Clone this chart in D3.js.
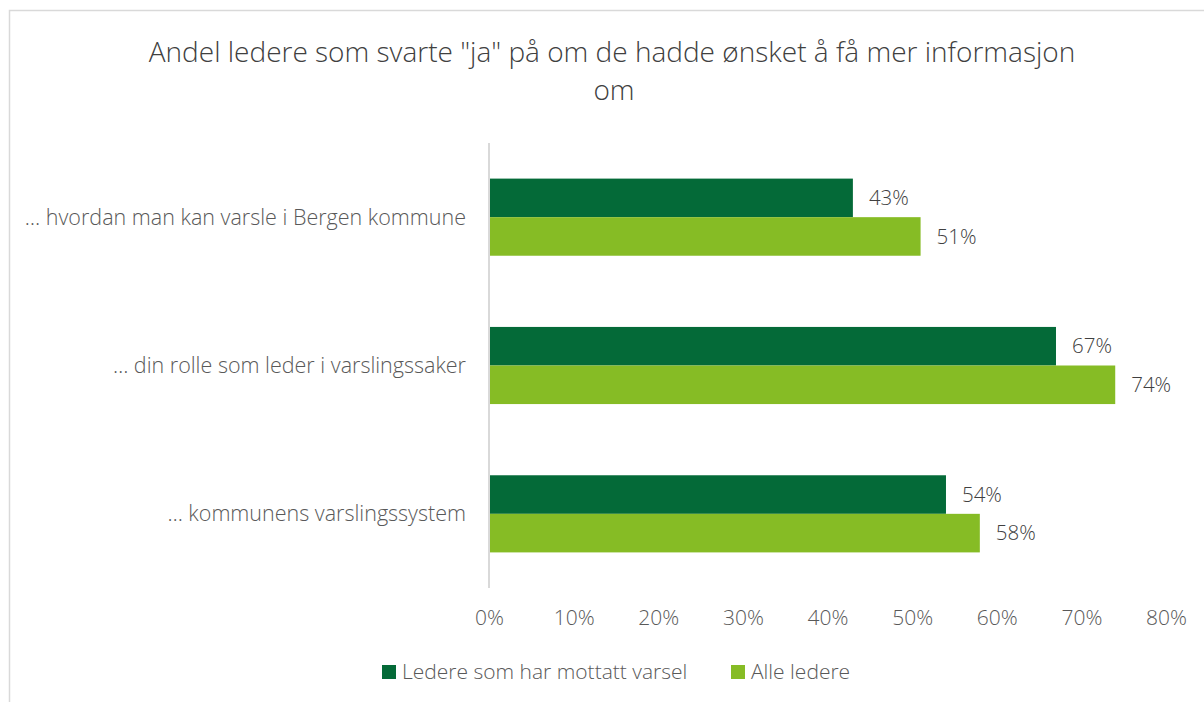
<!DOCTYPE html>
<html>

<head>
  <title>Andel ledere som svarte "ja"</title>
  <meta charset="UTF-8" />
  <script src="https://cdn.jsdelivr.net/npm/d3@7"></script>
</head>

<style>
  body {
    margin: 0;
    background: white;
    font-family: 'Open Sans', Lato, sans-serif;
    font-weight: 300;
  }
</style>

<body>
  <svg></svg>
  <script>
    // data
    const categories = [
      '… hvordan man kan varsle i Bergen kommune',
      '… din rolle som leder i varslingssaker',
      '… kommunens varslingssystem'
    ];
    const seriesNames = ['Ledere som har mottatt varsel', 'Alle ledere'];
    const mottattVarsel = [43, 67, 54];
    const alleLedere = [51, 74, 58];
    const ticks = [0, 10, 20, 30, 40, 50, 60, 70, 80];
    const colors = ['#046a38', '#86bc25'];

    let width = 1204,
      height = 702;

    let svg = d3.select('svg').attr('width', width).attr('height', height);

    // chart border (left and top are visible)
    svg.append('path')
      .attr('d', 'M9.5,702 V10.5 H1204')
      .attr('fill', 'none')
      .attr('stroke', '#d9d9d9')
      .attr('stroke-width', 1.5);

    // title
    let title = svg.append('text')
      .attr('text-anchor', 'middle')
      .attr('fill', '#404040')
      .style('font-size', '28px');
    title.append('tspan').attr('x', 612).attr('y', 62)
      .text('Andel ledere som svarte "ja" på om de hadde ønsket å få mer informasjon');
    title.append('tspan').attr('x', 614).attr('y', 100).text('om');

    let x = d3.scaleLinear().domain([0, 80]).range([489, 1166]);

    let y = d3.scaleBand()
      .domain(categories)
      .range([143, 588])
      .paddingInner(0.48)
      .paddingOuter(0.24);

    let y1 = d3.scaleBand().domain(seriesNames).range([0, y.bandwidth()]);

    let rows = categories.map((c, i) => ({
      cat: c,
      vals: [
        { name: seriesNames[0], v: mottattVarsel[i] },
        { name: seriesNames[1], v: alleLedere[i] }
      ]
    }));

    // bars
    let groups = svg.append('g').selectAll('g')
      .data(rows)
      .enter()
      .append('g')
      .attr('transform', d => 'translate(0,' + y(d.cat) + ')');

    groups.selectAll('rect')
      .data(d => d.vals)
      .enter()
      .append('rect')
      .attr('x', x(0))
      .attr('y', d => y1(d.name))
      .attr('width', d => x(d.v) - x(0))
      .attr('height', y1.bandwidth())
      .attr('fill', (d, i) => colors[i]);

    groups.selectAll('text')
      .data(d => d.vals)
      .enter()
      .append('text')
      .attr('x', d => x(d.v) + 16)
      .attr('y', d => y1(d.name) + y1.bandwidth() / 2)
      .attr('dy', '0.35em')
      .attr('fill', '#404040')
      .style('font-size', '20.5px')
      .text(d => d.v + '%');

    // vertical axis line and category labels
    svg.append('line')
      .attr('x1', x(0)).attr('x2', x(0))
      .attr('y1', 143).attr('y2', 588)
      .attr('stroke', '#d9d9d9')
      .attr('stroke-width', 2);

    svg.append('g').selectAll('text')
      .data(categories)
      .enter()
      .append('text')
      .attr('x', 466)
      .attr('y', d => y(d) + y.bandwidth() / 2)
      .attr('dy', '0.35em')
      .attr('text-anchor', 'end')
      .attr('fill', '#595959')
      .style('font-size', '21.5px')
      .text(d => d);

    // x axis ticks
    let xAxis = d3.axisBottom(x)
      .tickValues(ticks)
      .tickFormat(d => d + '%')
      .tickSize(0)
      .tickPadding(0);

    let gx = svg.append('g')
      .attr('transform', 'translate(0,618)')
      .call(xAxis);
    gx.select('.domain').remove();
    gx.selectAll('text')
      .attr('fill', '#595959')
      .attr('y', 0)
      .attr('dy', '0.35em')
      .style('font-family', "'Open Sans', Lato, sans-serif")
      .style('font-weight', 300)
      .style('font-size', '21px');

    // legend
    let legendX = [382, 731];
    let legend = svg.append('g').selectAll('g')
      .data(seriesNames)
      .enter()
      .append('g')
      .attr('transform', (d, i) => 'translate(' + legendX[i] + ',665)');
    legend.append('rect')
      .attr('width', 14)
      .attr('height', 14)
      .attr('fill', (d, i) => colors[i]);
    legend.append('text')
      .attr('x', 20)
      .attr('y', 7)
      .attr('dy', '0.35em')
      .attr('fill', '#595959')
      .style('font-size', '21px')
      .text(d => d);
  </script>
</body>

</html>
